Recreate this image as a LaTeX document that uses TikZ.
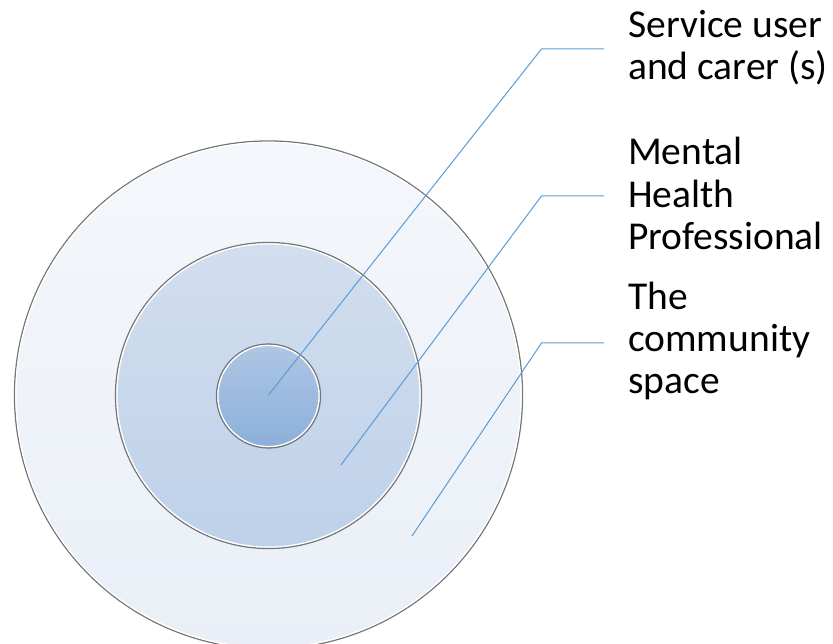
\documentclass[tikz,border=0pt]{standalone}
\usepackage{fontspec}
\setmainfont{Carlito}
\definecolor{leader}{HTML}{5B9BD5}
\definecolor{ringgray}{HTML}{767676}
\definecolor{outT}{HTML}{F4F7FB}
\definecolor{outB}{HTML}{EAEFF7}
\definecolor{midT}{HTML}{D2DEEE}
\definecolor{midB}{HTML}{BED1EA}
\definecolor{inT}{HTML}{AFC6E4}
\definecolor{inB}{HTML}{8BAFDA}
\begin{document}
\begin{tikzpicture}[x=1pt,y=-1pt,
  ring/.style={circle, inner sep=0pt, outer sep=0pt, draw=ringgray, line width=1.3pt},
  leaderline/.style={draw=leader, line width=1pt},
  label/.style={anchor=base west, inner sep=0pt, align=left, font=\fontsize{39.5}{42.5}\selectfont}
]
\useasboundingbox (0,0) rectangle (833,644);
% circles
\node[ring, minimum size=508pt, top color=outT, bottom color=outB] (outer) at (268.5,395) {};
\draw[white, line width=1.3pt] (outer.center) circle (252.6pt);
\node[ring, minimum size=306pt, top color=midT, bottom color=midB] (middle) at (268.5,395.5) {};
\draw[white, line width=1.3pt] (middle.center) circle (151.6pt);
\node[ring, minimum size=104pt, top color=inT, bottom color=inB] (inner) at (268.5,396) {};
\draw[white, line width=1.3pt] (inner.center) circle (50.6pt);
% labels (anchored at the baseline of their last line)
\node[label] (l1) at (628,80) {Service user\\and carer (s)};
\node[label] (l2) at (628,250) {Mental\\Health\\Professional};
\node[label] (l3) at (628,394) {The\\community\\space};
% leader points
\coordinate (p1) at (268.5,395);
\coordinate (e1) at (541.5,49);
\coordinate (h1) at (604,49);
\coordinate (p2) at (341,465);
\coordinate (e2) at (541.5,196);
\coordinate (h2) at (604,196);
\coordinate (p3) at (412,536);
\coordinate (e3) at (541.5,343);
\coordinate (h3) at (604,343);
\draw[leaderline] (p1) -- (e1) -- (h1);
\draw[leaderline] (p2) -- (e2) -- (h2);
\draw[leaderline] (p3) -- (e3) -- (h3);
\end{tikzpicture}
\end{document}
